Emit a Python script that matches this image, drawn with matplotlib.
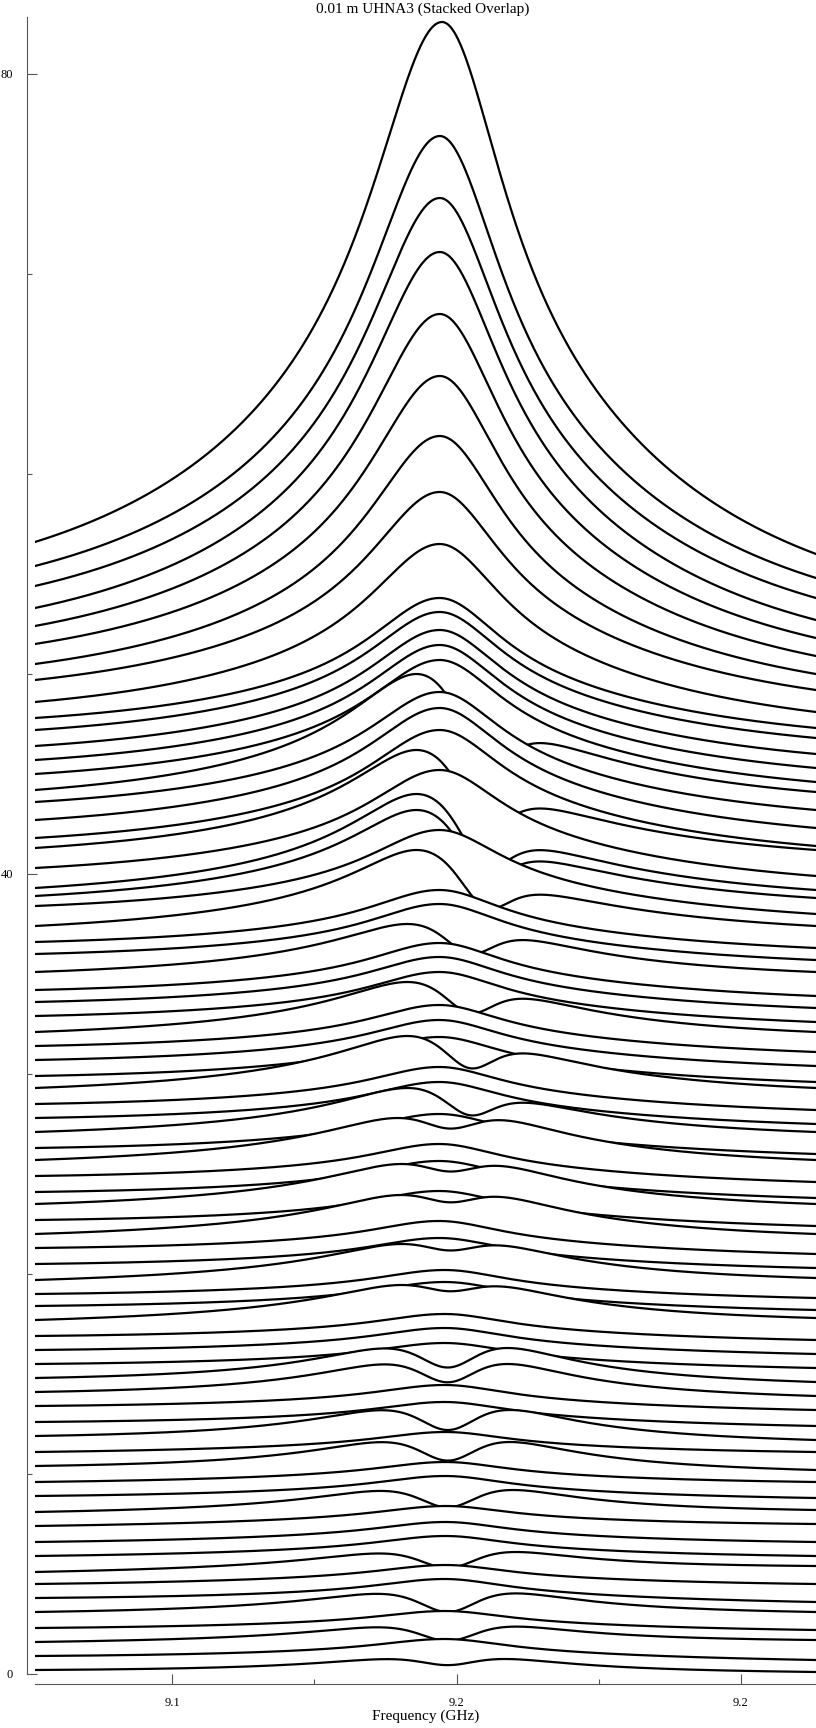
import numpy as np
import matplotlib
matplotlib.use("Agg")
import matplotlib.pyplot as plt
from matplotlib.ticker import FixedLocator, FixedFormatter, NullFormatter

# ---- data (bottom trace first) ----
left_level = [0.2, 0.9, 1.6, 2.3, 3.1, 3.8, 4.5, 5.1, 5.9, 6.6,
              7.4, 8.1, 8.9, 9.6, 10.4, 11.1, 11.9, 12.6, 13.4, 14.1,
              14.8, 15.5, 16.2, 16.9, 17.7, 18.4, 19.0, 19.7, 20.5, 21.3,
              22.0, 22.7, 23.5, 24.1, 24.9, 25.7, 26.3, 27.1, 27.8, 28.5,
              29.3, 29.9, 30.7, 31.4, 32.1, 32.9, 33.6, 34.2, 35.1, 36.0,
              36.6, 37.4, 38.4, 38.9, 39.3, 40.3, 41.3, 41.8, 42.7, 43.6,
              44.2, 45.0, 45.7, 46.4, 47.2, 47.8, 48.6, 49.7, 50.5, 51.5,
              52.4, 53.3, 54.4, 55.4, 56.6]
right_level = [0.1, 0.7, 1.7, 2.2, 3.1, 3.6, 4.5, 5.4, 5.9, 6.6,
               7.5, 8.2, 8.8, 9.6, 10.2, 11.1, 11.7, 12.4, 13.2, 13.9,
               14.6, 15.3, 16.0, 16.7, 17.8, 18.2, 18.8, 19.8, 20.3, 21.0,
               22.0, 22.4, 23.5, 23.8, 24.6, 25.7, 26.0, 27.1, 27.5, 28.2,
               29.3, 29.6, 30.4, 31.1, 32.1, 32.6, 33.3, 33.9, 35.1, 35.7,
               36.3, 37.4, 38.0, 38.8, 39.2, 39.9, 41.2, 41.4, 42.3, 43.2,
               44.1, 44.6, 45.3, 46.0, 46.8, 47.3, 48.1, 49.2, 50.0, 50.9,
               51.8, 52.7, 53.8, 54.8, 56.0]
peak_above = [0.55, 0.85, 0.77, 0.85, 0.93, 0.95, 0.95, 1.0, 1.0, 1.0,
              1.0, 1.1, 1.0, 1.0, 1.2, 1.0, 1.3, 1.0, 1.05, 1.4,
              1.5, 1.05, 1.1, 1.1, 1.75, 1.2, 1.2, 1.8, 1.3, 1.35,
              1.95, 1.45, 2.0, 1.55, 1.6, 2.1, 1.7, 2.2, 1.8, 1.85,
              2.6, 1.95, 2.0, 2.05, 2.5, 2.2, 2.25, 2.35, 2.4, 2.5,
              2.6, 3.8, 3.8, 4.3, 4.7, 4.9, 4.9, 5.4, 5.6, 5.5,
              5.8, 5.7, 5.75, 5.8, 5.9, 6.0, 7.9, 9.4, 11.4, 13.4,
              15.6, 17.8, 19.4, 21.5, 26.0]
c_main = [9.1495, 9.148, 9.1495, 9.148, 9.1495, 9.148, 9.148, 9.1495, 9.148, 9.148,
          9.148, 9.1495, 9.148, 9.148, 9.1495, 9.148, 9.1495, 9.148, 9.148, 9.1495,
          9.1495, 9.148, 9.148, 9.148, 9.149, 9.148, 9.148, 9.149, 9.147, 9.147,
          9.149, 9.147, 9.149, 9.147, 9.147, 9.149, 9.147, 9.149, 9.147, 9.147,
          9.149, 9.147, 9.147, 9.147, 9.149, 9.147, 9.147, 9.147, 9.149, 9.147,
          9.147, 9.147, 9.147, 9.147, 9.147, 9.147, 9.147, 9.147, 9.147, 9.147,
          9.147, 9.147, 9.147, 9.147, 9.147, 9.147, 9.147, 9.147, 9.147, 9.147,
          9.147, 9.147, 9.147, 9.147, 9.1474]
w_main = [.018, .015, .018, .015, .018, .015, .015, .018, .015, .015,
          .015, .018, .015, .015, .018, .015, .018, .015, .015, .018,
          .018, .015, .015, .015, .018, .015, .015, .018, .015, .015,
          .018, .015, .018, .015, .015, .018, .015, .018, .015, .015,
          .018, .015, .015, .015, .018, .015, .015, .015, .018, .015,
          .015, .016, .015, .016, .016, .015, .016, .015, .015, .015,
          .016, .015, .015, .015, .015, .015, .015, .015, .015, .015,
          .015, .015, .015, .015, .015]
broad_weight = [.1, .64, .1, .64, .1, .64, .64, .1, .64, .64,
                .64, .1, .64, .64, .1, .64, .1, .64, .64, .1,
                .1, .64, .64, .64, .3, .64, .64, .3, .64, .64,
                .3, .64, .3, .64, .64, .3, .64, .3, .64, .64,
                .3, .64, .64, .64, .3, .64, .64, .64, .3, .64,
                .64, .4, .64, .4, .4, .64, .4, .64, .64, .64,
                .4, .64, .64, .64, .64, .64, .64, .64, .64, .64,
                .64, .64, .64, .64, .64]
dip_depth = [.7, 0, .92, 0, .92, 0, 0, .9, 0, 0,
             0, .85, 0, 0, .8, 0, .8, 0, 0, .75,
             .75, 0, 0, 0, .45, 0, 0, .45, 0, 0,
             .45, 0, .45, 0, 0, .5, 0, .65, 0, 0,
             .65, 0, 0, 0, .65, 0, 0, 0, .65, 0,
             0, .65, 0, .65, .65, 0, .65, 0, 0, 0,
             .65, 0, 0, 0, 0, 0, 0, 0, 0, 0,
             0, 0, 0, 0, 0]
c_dip = [9.1485] * 24 + [9.149] * 12 + [9.1525] * 14 + [9.1555] * 25
w_dip = [0.009] * 24 + [0.009] * 12 + [0.0075] * 14 + [0.007] * 25
c_broad = 9.149
w_broad = 0.05
right_width_scale = 0.88

x_major = [9.10, 9.15, 9.20]
x_major_labels = ["9.1", "9.2", "9.2"]
x_minor = [9.125, 9.175]
y_major = [0, 40, 80]
y_major_labels = ["0", "40", "80"]
y_minor = [10, 20, 30, 50, 60, 70]

x_lo, x_hi = 9.0759, 9.2132
y_lo, y_hi = 0.0, 82.85

SERIF = ["Liberation Serif", "DejaVu Serif"]

fig = plt.figure(figsize=(8.16, 17.28), dpi=100)
ax = fig.add_axes([35 / 816, 54 / 1728, 781 / 816, 1657 / 1728])
ax.set_xlim(x_lo, x_hi)
ax.set_ylim(y_lo, y_hi)

freq = np.linspace(x_lo, x_hi, 900)
t = (freq - x_lo) / (x_hi - x_lo)


def lor(x, c, g, rs=1.0):
    gg = np.where(x < c, g, g * rs)
    return 1.0 / (1.0 + ((x - c) / gg) ** 2)


n = len(left_level)
for k in range(n - 1, -1, -1):
    p = (lor(freq, c_main[k], w_main[k], right_width_scale)
         + broad_weight[k] * lor(freq, c_broad, w_broad, right_width_scale))
    p = p * (1.0 - dip_depth[k] * lor(freq, c_dip[k], w_dip[k]))
    p = p - (p[0] + (p[-1] - p[0]) * t)
    base = left_level[k] + (right_level[k] - left_level[k]) * t
    i = int(np.argmax(p))
    s = (left_level[k] + peak_above[k] - base[i]) / p[i]
    y = base + s * p
    z = 10 + 2 * (n - k)
    ax.fill_between(freq, y, y_lo - 5, color="white", lw=0, zorder=z)
    ax.plot(freq, y, color="black", lw=1.6, zorder=z + 1, solid_joinstyle="round")

for side in ["top", "right"]:
    ax.spines[side].set_visible(False)
ax.spines["left"].set_position(("outward", 5.8))
ax.spines["bottom"].set_position(("outward", 7.2))
for side in ["left", "bottom"]:
    ax.spines[side].set_color("#555555")
    ax.spines[side].set_linewidth(0.8)
    ax.spines[side].set_zorder(1000)

ax.xaxis.set_major_locator(FixedLocator(x_major))
ax.xaxis.set_major_formatter(FixedFormatter(x_major_labels))
ax.xaxis.set_minor_locator(FixedLocator(x_minor))
ax.xaxis.set_minor_formatter(NullFormatter())
ax.yaxis.set_major_locator(FixedLocator(y_major))
ax.yaxis.set_major_formatter(FixedFormatter(y_major_labels))
ax.yaxis.set_minor_locator(FixedLocator(y_minor))
ax.yaxis.set_minor_formatter(NullFormatter())

ax.tick_params(axis="both", which="major", direction="in", length=7.2, width=0.8,
               color="#555555", labelsize=9)
ax.tick_params(axis="both", which="minor", direction="in", length=3.6, width=0.8,
               color="#555555")
ax.tick_params(axis="y", which="major", pad=10)
ax.tick_params(axis="x", which="major", pad=9)
ax.xaxis.set_zorder(1000)
ax.yaxis.set_zorder(1000)
for lab in ax.get_xticklabels() + ax.get_yticklabels():
    lab.set_family(SERIF)

ax.set_title("0.01 m UHNA3 (Stacked Overlap)", fontsize=11, pad=3, family=SERIF, x=0.497)
ax.set_xlabel("Frequency (GHz)", fontsize=11, labelpad=1, family=SERIF)

fig.savefig("out.png", dpi=100)
